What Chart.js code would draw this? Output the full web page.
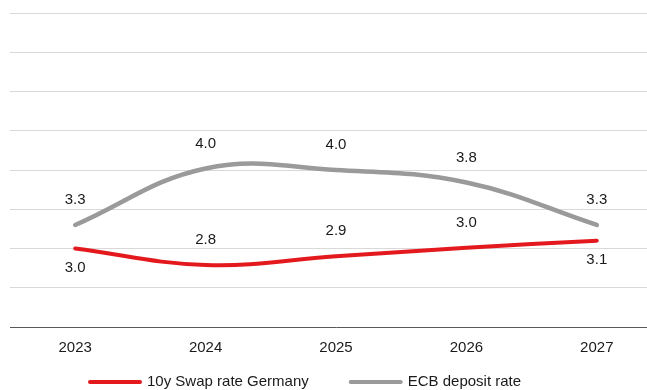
<!DOCTYPE html>
<html>
<head>
<meta charset="utf-8">
<script src="https://cdn.jsdelivr.net/npm/chart.js@4.4.1/dist/chart.umd.min.js"></script>
<style>
html, body { margin: 0; padding: 0; background: #fff; overflow: hidden; }
#wrap { width: 647px; height: 390px; overflow: hidden; }
#box { width: 662px; height: 390px; }
</style>
</head>
<body>
<div id="wrap"><div id="box"><canvas id="myChart"></canvas></div></div>
<script>
var years = ['2023', '2024', '2025', '2026', '2027']
var swapRate = [3.0, 2.79, 2.9, 3.01, 3.1]
var ecbRate = [3.3, 4.02, 4.0, 3.84, 3.3]
var yMin = 2
var yMax = 6
var yStep = 0.5

// where each value label sits relative to its point
var swapSide = ['below', 'above', 'above', 'above', 'below']
var ecbSide = ['above', 'above', 'above', 'above', 'above']

var font = '15px "Liberation Sans", Arial, sans-serif'

var valueLabels = {
    id: 'valueLabels',
    afterDatasetsDraw(chart) {
        var c = chart.ctx
        var sides = [swapSide, ecbSide]
        c.save()
        c.font = font
        c.fillStyle = '#1a1a1a'
        c.textAlign = 'center'
        c.textBaseline = 'middle'
        chart.data.datasets.forEach(function (ds, i) {
            var meta = chart.getDatasetMeta(i)
            meta.data.forEach(function (pt, j) {
                var dy = sides[i][j] == 'below' ? 19 : -25
                c.fillText(ds.data[j].toFixed(1), pt.x, pt.y + dy)
            })
        })
        c.restore()
    }
}

var bottomLegend = {
    id: 'bottomLegend',
    afterDraw(chart) {
        var c = chart.ctx
        var x = 88
        var y = 382
        c.save()
        c.font = font
        c.textBaseline = 'middle'
        c.textAlign = 'left'
        chart.data.datasets.forEach(function (ds) {
            c.strokeStyle = ds.borderColor
            c.lineWidth = 4
            c.lineCap = 'round'
            c.beginPath()
            c.moveTo(x + 2, y)
            c.lineTo(x + 52, y)
            c.stroke()
            c.fillStyle = '#1a1a1a'
            c.fillText(ds.label, x + 59, y)
            x += 59 + c.measureText(ds.label).width + 40
        })
        c.restore()
    }
}

var ctx = document.getElementById('myChart').getContext('2d')
var chart = new Chart(ctx, {
    type: 'line',
    data: {
        labels: years,
        datasets: [{
            label: '10y Swap rate Germany',
            data: swapRate,
            borderColor: '#e3191e',
            borderWidth: 4,
            borderCapStyle: 'round',
            pointRadius: 0,
            tension: 0.4
        }, {
            label: 'ECB deposit rate',
            data: ecbRate,
            borderColor: '#9a9a9a',
            borderWidth: 4.5,
            borderCapStyle: 'round',
            pointRadius: 0,
            tension: 0.4
        }]
    },
    options: {
        responsive: true,
        maintainAspectRatio: false,
        animation: false,
        layout: { padding: { left: 10, right: 0, top: 13, bottom: 21 } },
        plugins: {
            legend: { display: false },
            tooltip: { enabled: false }
        },
        scales: {
            x: {
                offset: true,
                grid: { display: false, drawTicks: false },
                border: { display: true, color: '#595959', width: 1 },
                ticks: { color: '#1a1a1a', font: { family: '"Liberation Sans", Arial, sans-serif', size: 15 }, padding: 12 }
            },
            y: {
                min: yMin,
                max: yMax,
                ticks: { display: false, stepSize: yStep },
                grid: { color: '#d9d9d9', lineWidth: 1, drawTicks: false },
                border: { display: false }
            }
        }
    },
    plugins: [valueLabels, bottomLegend]
})
</script>
</body>
</html>
